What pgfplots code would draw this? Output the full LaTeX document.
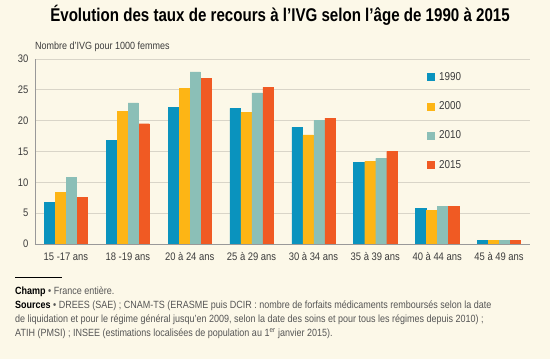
\documentclass[border=0pt]{standalone}
\usepackage{pgfplots}
\pgfplotsset{compat=1.18}
\usepackage{fontspec}
\setmainfont[FakeStretch=0.86]{Liberation Sans}
\newfontfamily\titlefont[FakeStretch=0.82]{Liberation Sans}
\definecolor{bgc}{HTML}{FCF8E8}
\definecolor{c1}{HTML}{0A93BE}
\definecolor{c2}{HTML}{FDB515}
\definecolor{c3}{HTML}{8BBFB7}
\definecolor{c4}{HTML}{F05A23}
\definecolor{gridc}{HTML}{D9D5C8}
\definecolor{labc}{HTML}{3C3C3C}
\definecolor{srcc}{HTML}{555555}
\begin{document}
\begin{tikzpicture}
\fill[bgc] (0,0) rectangle (550bp,359bp);
\begin{axis}[
  at={(35bp,115bp)}, anchor=south west,
  scale only axis, width=495bp, height=185bp,
  ymin=0, ymax=30, ytick={0,5,...,30},
  xmin=-0.5, xmax=7.5, xtick={0,...,7},
  xticklabels={15 -17 ans,18 -19 ans,20 à 24 ans,25 à 29 ans,30 à 34 ans,35 à 39 ans,40 à 44 ans,45 à 49 ans},
  ybar=0.8bp, bar width=0.165,
  axis x line*=bottom, axis y line*=left,
  axis line style={draw=gray!80, line width=0.8pt},
  ymajorgrids, grid style={draw=gridc, line width=0.8pt},
  major tick length=0pt,
  /pgf/number format/assume math mode=true,
  tick label style={font=\fontsize{11}{13}\selectfont, text=labc},
  xticklabel style={yshift=-5bp},
  yticklabel style={xshift=-3bp},
  legend cell align=left,
  legend image code/.code={\fill[#1] (0bp,-3.5bp) rectangle (7bp,3.5bp);},
  legend style={at={(rel axis cs:0.785,0.95)}, anchor=north west, draw=none, fill=none,
    font=\fontsize{11.5}{13}\selectfont, text=labc, row sep=15.8bp,
    nodes={inner xsep=5bp}},
]
\addplot[fill=c1, draw=c1] coordinates {(0,6.8) (1,16.8) (2,22.2) (3,22.0) (4,18.9) (5,13.2) (6,5.8) (7,0.6)};
\addplot[fill=c2, draw=c2] coordinates {(0,8.4) (1,21.5) (2,25.2) (3,21.3) (4,17.7) (5,13.4) (6,5.5) (7,0.6)};
\addplot[fill=c3, draw=c3] coordinates {(0,10.8) (1,22.9) (2,27.9) (3,24.5) (4,20.0) (5,13.9) (6,6.05) (7,0.6)};
\addplot[fill=c4, draw=c4] coordinates {(0,7.6) (1,19.5) (2,26.9) (3,25.4) (4,20.4) (5,15.0) (6,6.05) (7,0.6)};
\legend{1990,2000,2010,2015}
\end{axis}
\node[font=\titlefont\fontsize{18.5}{20}\selectfont\bfseries, text=black] at (280bp,344bp) {Évolution des taux de recours à l’IVG selon l’âge de 1990 à 2015};
\node[anchor=west, inner sep=0pt, font=\fontsize{10.5}{12}\selectfont, text=labc] at (35bp,312bp) {Nombre d’IVG pour 1000 femmes};
\draw[black, line width=0.8pt] (15bp,82bp) -- (62bp,82bp);
\begin{scope}[every node/.style={anchor=west, inner sep=0pt, font=\fontsize{10.5}{12}\selectfont, text=srcc}]
\node at (15bp,67bp) {\textcolor{black}{\bfseries Champ} • France entière.};
\node at (15bp,53bp) {\textcolor{black}{\bfseries Sources} • DREES (SAE) ; CNAM-TS (ERASME puis DCIR : nombre de forfaits médicaments remboursés selon la date};
\node at (15bp,39bp) {de liquidation et pour le régime général jusqu'en 2009, selon la date des soins et pour tous les régimes depuis 2010) ;};
\node at (15bp,25bp) {ATIH (PMSI) ; INSEE (estimations localisées de population au 1\textsuperscript{er} janvier 2015).};
\end{scope}
\end{tikzpicture}
\end{document}
